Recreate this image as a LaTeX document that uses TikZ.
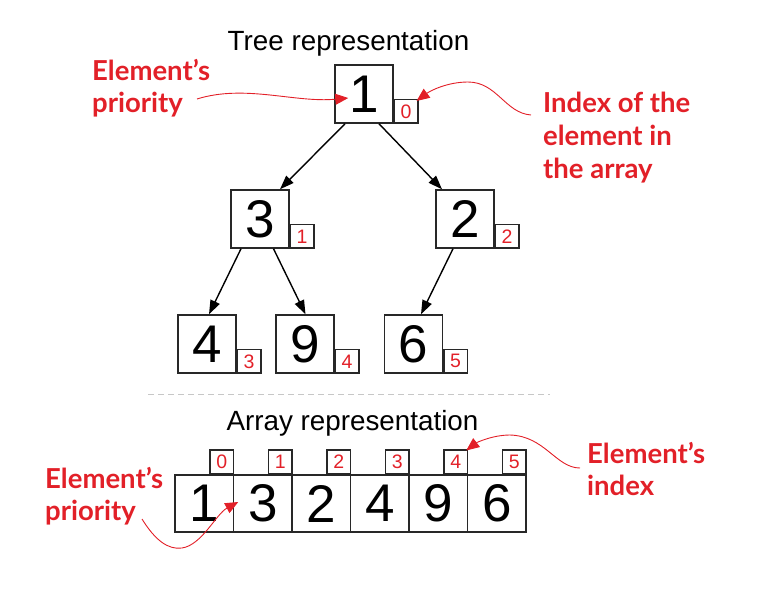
\documentclass[tikz,border=0pt]{standalone}
\usepackage{fontspec}
\setmainfont{Liberation Sans}
\newfontfamily\labfont{Lato}
\usetikzlibrary{arrows.meta}
\definecolor{lred}{RGB}{226,32,40}
\definecolor{boxgray}{RGB}{40,40,40}
\tikzset{
  prio/.style={draw=boxgray, line width=1.5pt, minimum width=58pt, minimum height=58pt, inner sep=0pt, font=\fontsize{53}{53}\selectfont},
  cell/.style={prio, minimum width=58.5pt, minimum height=57pt},
  idx/.style={draw=boxgray, line width=1.3pt, minimum width=23.5pt, minimum height=23.5pt, inner sep=0pt, text=lred, font=\fontsize{19.5}{19.5}\selectfont},
  edge/.style={line width=1.4pt, -{Triangle[length=14pt,width=10pt]}},
  note/.style={text=lred, font=\labfont\bfseries\fontsize{27.5}{27.5}\selectfont, anchor=base west, inner sep=0pt},
  ann/.style={draw=lred, line width=0.9pt, -{Triangle[length=13pt,width=11pt]}, fill=none},
  ttl/.style={font=\fontsize{27.8}{27.8}\selectfont, anchor=base, inner sep=0pt}
}
\begin{document}
\begin{tikzpicture}[x=1pt,y=-1pt]
\useasboundingbox (0,0) rectangle (758,595);
% titles
\node[ttl] (t1) at (348.5,50) {Tree representation};
\node[ttl] (t2) at (352.5,430) {Array representation};
% tree
\node[prio] (r) at (364,94) {1};
\node[idx, anchor=south west] (ir) at (r.south east) {0};
\node[prio] (n3) at (260,219) {3};
\node[idx, anchor=south west] (i3) at (n3.south east) {1};
\node[prio] (n2) at (465,219) {2};
\node[idx, anchor=south west] (i2) at (n2.south east) {2};
\node[prio] (n4) at (207,344) {4};
\node[idx, anchor=south west] (i4) at (n4.south east) {3};
\node[prio] (n9) at (305,344) {9};
\node[idx, anchor=south west] (i9) at (n9.south east) {4};
\node[prio] (n6) at (413.5,344) {6};
\node[idx, anchor=south west] (i6) at (n6.south east) {5};
\draw[edge] ([xshift=-19pt]r.south) -- ([xshift=20pt]n3.north);
\draw[edge] ([xshift=15pt]r.south) -- ([xshift=-23pt]n2.north);
\draw[edge] ([xshift=-19pt]n3.south) -- ([xshift=2pt]n4.north);
\draw[edge] ([xshift=13.5pt]n3.south) -- ([xshift=0.5pt]n9.north);
\draw[edge] ([xshift=-12pt]n2.south) -- ([xshift=7.5pt]n6.north);
% separator
\draw[black!22, line width=1pt, dash pattern=on 6pt off 4pt] (148,394) -- (550,394);
% array
\foreach \i/\v in {0/1,1/3,2/2,3/4,4/9,5/6}{
  \node[cell] (a\i) at ({175+58.5*(\i+0.5)},503.5) {\v};
  \node[idx, anchor=south east] (b\i) at (a\i.north east) {\i};
}
% labels
\node[note] (l1a) at (92,80) {Element’s};
\node[note] (l1b) at (92,112) {priority};
\node[note] (l2a) at (543,112) {Index of the};
\node[note] (l2b) at (543,145) {element in};
\node[note] (l2c) at (543,178) {the array};
\node[note] (l3a) at (587,463) {Element’s};
\node[note] (l3b) at (587,495) {index};
\node[note] (l4a) at (45,488) {Element’s};
\node[note] (l4b) at (45,520) {priority};
% annotation arrows
\coordinate (s1) at (197,99);
\coordinate (s2) at (531,115);
\coordinate (s3) at (580,468);
\coordinate (s4) at (142,519);
\draw[ann] (s1) .. controls (245,84) and (295,103) .. ([xshift=14pt,yshift=-4pt]r.west);
\draw[ann] (s2) .. controls (505,113) and (497,82) .. (468,82) .. controls (447,82) and (430,91) .. ([xshift=-2pt,yshift=-2pt]ir.north east);
\draw[ann] (s3) .. controls (556,468) and (545,436) .. (510,435) .. controls (492,435) and (476,443) .. ([xshift=-2pt,yshift=-1pt]b4.north east);
\draw[ann] (s4) .. controls (155,540) and (168,550) .. (182,548) .. controls (202,545) and (216,514) .. ([xshift=5.5pt,yshift=1.5pt]a1.west);
\end{tikzpicture}
\end{document}
